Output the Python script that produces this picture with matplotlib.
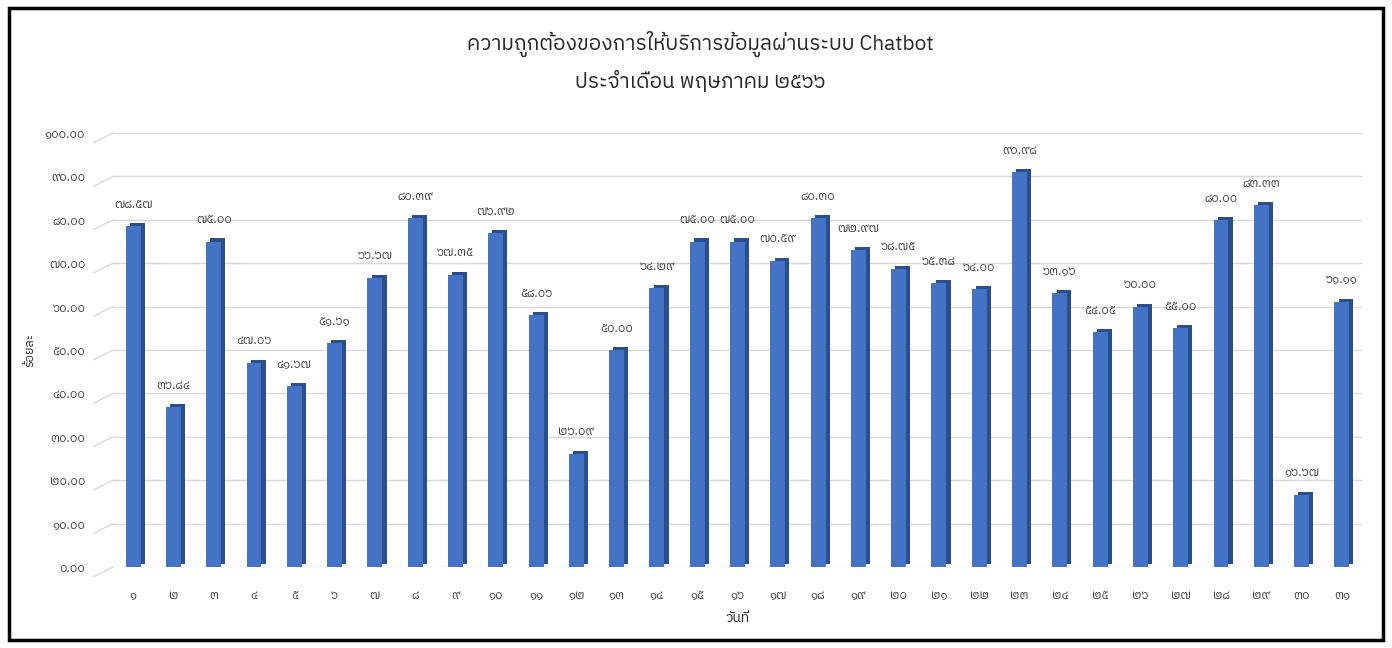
import matplotlib
matplotlib.use("Agg")
import matplotlib.pyplot as plt
from matplotlib import font_manager, ft2font
from matplotlib.transforms import ScaledTranslation
from matplotlib.patches import Rectangle

# ---- data -------------------------------------------------------------
days = list(range(1, 32))
accuracy = [78.57, 36.84, 75.00, 47.06, 41.67, 51.61, 66.67, 80.39, 67.35, 76.92,
            58.06, 26.09, 50.00, 64.29, 75.00, 75.00, 70.59, 80.30, 72.97, 68.75,
            65.38, 64.00, 90.98, 63.16, 54.05, 60.00, 55.00, 80.00, 83.33, 16.67,
            61.11]
y_ticks = [0, 10, 20, 30, 40, 50, 60, 70, 80, 90, 100]
title_text = "ความถูกต้องของการให้บริการข้อมูลผ่านระบบ Chatbot\nประจำเดือน พฤษภาคม ๒๕๖๖"
x_label = "วันที่"
y_label = "ร้อยละ"

THAI_DIGITS = str.maketrans("0123456789", "๐๑๒๓๔๕๖๗๘๙")


def thai_num(s):
    return s.translate(THAI_DIGITS)


# ---- pick a font that carries Thai glyphs -----------------------------
def find_thai_font():
    best = None
    for path in font_manager.findSystemFonts():
        try:
            cm = ft2font.FT2Font(path).get_charmap()
        except Exception:
            continue
        if 0x0E01 in cm and 0x0E51 in cm:
            name = font_manager.FontProperties(fname=path).get_name()
            if best is None or "Thai" in name:
                best = name
    return best


thai_font = find_thai_font()
families = ([thai_font] if thai_font else []) + ["DejaVu Sans"]
plt.rcParams["font.family"] = families

# ---- figure -------------------------------------------------------------
fig = plt.figure(figsize=(13.92, 6.48), dpi=100)
fig.patch.set_facecolor("white")
ax = fig.add_axes([113 / 1392, 81 / 648, 1249 / 1392, 434 / 648])

front = "#4472C4"
shade = "#2B4F8C"
text_col = "#404040"
bar_w = 0.37

# darker back copy shifted up/right gives the side and top faces
shift = ax.transData + ScaledTranslation(3 / 72, 2.2 / 72, fig.dpi_scale_trans)
ax.bar(days, accuracy, width=bar_w, color=shade, transform=shift, zorder=2)
ax.bar(days, accuracy, width=bar_w, color=front, zorder=3)

for d, v in zip(days, accuracy):
    ax.annotate(thai_num(f"{v:.2f}"), (d, v), xytext=(0, 11), textcoords="offset points",
                ha="center", va="bottom", fontsize=9, color="#404040", zorder=4)

ax.set_xlim(0.5, 31.5)
ax.set_ylim(0, 100)
ax.set_yticks(y_ticks)
ax.set_yticklabels([thai_num(f"{t:.2f}") for t in y_ticks], fontsize=9, color=text_col)
ax.set_xticks(days)
ax.set_xticklabels([thai_num(str(d)) for d in days], fontsize=9, color=text_col)
ax.tick_params(axis="both", length=0)
ax.tick_params(axis="x", pad=16)
ax.tick_params(axis="y", pad=20)
ax.yaxis.grid(True, color="#D9D9D9", linewidth=1)
ax.set_axisbelow(True)
for s in ax.spines.values():
    s.set_visible(False)

# short slanted ends of the grid on the left
for t in y_ticks:
    ax.annotate("", xy=(0, t), xycoords=("axes fraction", "data"),
                xytext=(-14, -7), textcoords="offset points",
                arrowprops=dict(arrowstyle="-", color="#D9D9D9", lw=1, shrinkA=0, shrinkB=0),
                annotation_clip=False)

ax.set_xlabel(x_label, fontsize=10, color="#262626", labelpad=6)
ax.set_ylabel(y_label, fontsize=9, color="#262626", labelpad=6)

fig.text(0.503, 0.905, title_text, ha="center", va="center", fontsize=15,
         color="#262626", linespacing=1.7)

# black frame around the whole chart
fig.patches.append(Rectangle((9 / 1392, 8 / 648), 1374 / 1392, 632 / 648,
                             transform=fig.transFigure, fill=False,
                             edgecolor="black", linewidth=2.5))

fig.savefig("out.png", dpi=100)
